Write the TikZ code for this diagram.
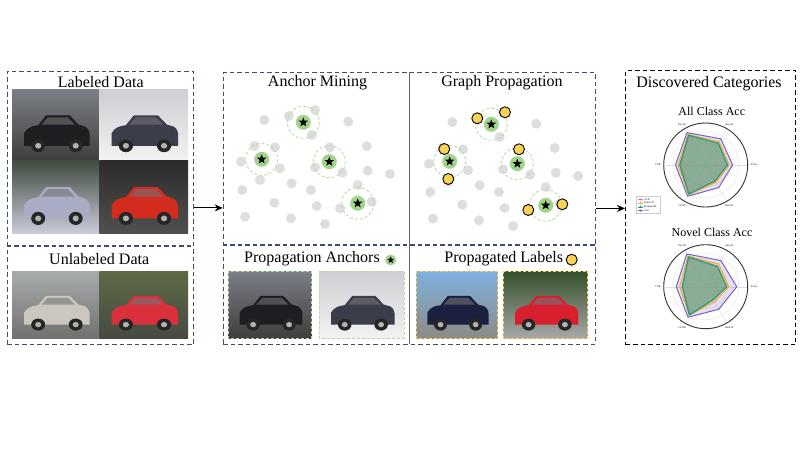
\documentclass[tikz,border=0pt]{standalone}
\usepackage{fontspec}
\setmainfont{Liberation Serif}
\usetikzlibrary{shapes.geometric,arrows.meta}
\definecolor{boxblue}{HTML}{3F4D6E}
\definecolor{dotgray}{HTML}{DEDEDE}
\definecolor{anchorgreen}{HTML}{A3D48C}
\definecolor{ringgreen}{HTML}{B5DBA0}
\definecolor{yellowc}{HTML}{F8D254}
\definecolor{rpink}{HTML}{E377C2}
\definecolor{rorange}{HTML}{F2A93B}
\definecolor{rgreen}{HTML}{1B9E77}
\definecolor{rpurple}{HTML}{7B61C2}
\definecolor{pLat}{HTML}{7D8089}\definecolor{pLab}{HTML}{3E3E3C}\definecolor{pLac}{HTML}{1E1E22}
\definecolor{pLbt}{HTML}{CFCFD4}\definecolor{pLbb}{HTML}{F2F2F2}\definecolor{pLbc}{HTML}{3B3E4A}
\definecolor{pLct}{HTML}{3F4A40}\definecolor{pLcb}{HTML}{C9CBD9}\definecolor{pLcc}{HTML}{A8ACC4}
\definecolor{pLdt}{HTML}{2B2B2B}\definecolor{pLdb}{HTML}{505050}\definecolor{pLdc}{HTML}{D42B1F}
\definecolor{pUat}{HTML}{A9ACAE}\definecolor{pUab}{HTML}{707270}\definecolor{pUac}{HTML}{CBC7BE}
\definecolor{pUbt}{HTML}{5D6B45}\definecolor{pUbb}{HTML}{474A44}\definecolor{pUbc}{HTML}{D9303C}
\definecolor{pRat}{HTML}{7EB0E0}\definecolor{pRab}{HTML}{8C8C84}\definecolor{pRac}{HTML}{1B2040}
\definecolor{pRbt}{HTML}{34502A}\definecolor{pRbb}{HTML}{A8A8A8}\definecolor{pRbc}{HTML}{D81F2E}
\tikzset{
  dbox/.style={draw=boxblue, line width=1.3pt, dash pattern=on 4.5pt off 3pt},
  kbox/.style={draw=black, line width=1.3pt, dash pattern=on 4.5pt off 3pt},
  ttl/.style={font=\fontsize{16}{18}\selectfont, inner sep=0pt},
  sttl/.style={font=\fontsize{12}{14}\selectfont, inner sep=0pt},
  arr/.style={draw=black, line width=0.9pt, -{Stealth[length=8pt,width=7pt]}},
  starnode/.style={star, star points=5, star point ratio=2.4, fill=black, inner sep=0pt, minimum size=10pt},
  ylw/.style={circle, fill=yellowc, draw=black, line width=0.9pt, minimum size=11pt, inner sep=0pt},
  ring/.style={draw=ringgreen, line width=0.8pt, dash pattern=on 3pt off 2pt},
  gdash/.style={draw=ringgreen, line width=1pt, dash pattern=on 3pt off 2pt},
  ydash/.style={draw=yellowc, line width=1pt, dash pattern=on 3pt off 2pt},
  tiny/.style={font=\fontsize{2.6}{3}\selectfont, inner sep=0pt},
}
% photo placeholder: x1,y1,x2,y2,top colour,bottom colour,car colour
\newcommand\photo[7]{%
  \shade[top color=#5, bottom color=#6] (#1,#2) rectangle (#3,#4);
  \begin{scope}[shift={(#1,#2)}, xscale={(#3-#1)/100}, yscale={(#4-#2)/100}]
    \fill[#7] (14,80) -- (14,62) .. controls (17,55) and (22,52) .. (30,51) -- (39,37) -- (66,37) -- (76,50) -- (84,53) .. controls (88,56) and (89,61) .. (89,67) -- (89,80) -- cycle;
    \fill[black!55, opacity=0.6] (41,40) -- (64,40) -- (72,50) -- (34,50) -- cycle;
    \fill[black!85] (30,80) ellipse (8 and 9);
    \fill[black!85] (73,80) ellipse (8 and 9);
    \fill[gray!60] (30,80) ellipse (3.5 and 4);
    \fill[gray!60] (73,80) ellipse (3.5 and 4);
  \end{scope}}
% radar polygon: colour, fill opacity, six values
\newcommand\rpoly[8]{%
  \draw[#1, fill=#1, fill opacity=#2, line width=1pt, line join=round]
    ({120}:{#3*42}) -- ({60}:{#4*42}) -- ({0}:{#5*42}) -- ({-60}:{#6*42}) -- ({-120}:{#7*42}) -- ({180}:{#8*42}) -- cycle;}
\newcommand\radarbase{%
  \foreach \rr in {11,22,33} \draw[gray!18, line width=0.5pt] (0,0) circle (\rr);
  \foreach \aa in {0,60,120,180,240,300} \draw[gray!25, line width=0.4pt] (0,0) -- (\aa:42);
  \draw[black!80, line width=0.9pt] (0,0) circle (42);
  \node[tiny] (lin) at (120:47) {IN-100};
  \node[tiny] (lair) at (60:47) {Aircraft};
  \node[tiny, anchor=west] (lsc) at (0:45) {SCars};
  \node[tiny] (lherb) at (-60:47) {Herb19};
  \node[tiny] (lcf) at (-120:47) {CF100};
  \node[tiny, anchor=east] (lcub) at (180:45) {CUB};}
\begin{document}
\begin{tikzpicture}[x=1pt,y=-1pt]
\fill[white] (0,0) rectangle (806,450);
\useasboundingbox (0,0) rectangle (806,450);

% ---------- left box ----------
\node[dbox, anchor=north west, minimum width=186.5pt, minimum height=273.5pt, inner sep=0pt] (data) at (6.5,70.5) {};
\draw[dbox] (6.5,246) -- (193,246);
\node[ttl] (tlab) at (100.8,82) {Labeled Data};
\photo{12}{89}{99.3}{160}{pLat}{pLab}{pLac}
\photo{99.3}{89}{188}{160}{pLbt}{pLbb}{pLbc}
\photo{12}{160}{99.3}{233}{pLct}{pLcb}{pLcc}
\photo{99.3}{160}{188}{233}{pLdt}{pLdb}{pLdc}
\node[ttl] (tunl) at (99.2,259) {Unlabeled Data};
\photo{12}{271}{99.3}{338}{pUat}{pUab}{pUac}
\photo{99.3}{271}{188}{338}{pUbt}{pUbb}{pUbc}

% ---------- middle box ----------
\node[dbox, anchor=north west, minimum width=372.3pt, minimum height=271.5pt, inner sep=0pt] (mid) at (222.7,72) {};
\draw[dbox] (222.7,245) -- (595,245);
\draw[gray!80!black, line width=0.9pt] (409.3,72) -- (409.3,343.5);
\node[ttl] (tam) at (317.5,83) {Anchor Mining};
\node[ttl] (tgp) at (502,83) {Graph Propagation};

\foreach \dx/\dy in {0/0,188/2}{
  \begin{scope}[shift={(\dx,\dy)}]
  \foreach \px/\py in {264.3/120, 289/116, 315/110, 348.3/121.7, 254.3/146, 275/147.3, 241/161.7, 280/168.3, 260/180, 311.7/135, 330/147.3, 366.7/146, 315/167.3, 342.3/172.7, 367.7/170.7, 390/174, 242.3/190, 291.7/183.3, 311/190, 357.7/185, 274.3/202.7, 316.7/206, 340/208.3, 371.7/201.7, 245/216.7, 291/218.3, 325/224}
    \fill[dotgray] (\px,\py) circle (5);
  \foreach \px/\py [count=\k] in {303.3/122.3, 261.7/159.3, 329.3/161.7, 357.7/203.3}{
    \draw[ring] (\px,\py) circle (16);
    \fill[anchorgreen] (\px,\py) circle (7.5);
    \node[starnode] (st\dx-\k) at (\px,\py) {};
  }
  \end{scope}
}
\foreach \px/\py [count=\k] in {477.3/118.3, 505/112.3, 444.3/149, 448.3/179, 519/149.3, 528.3/210, 562.3/204.3}
  \node[ylw] (yl\k) at (\px,\py) {};

\node[ttl] (tpa) at (312,259) {Propagation Anchors};
\fill[anchorgreen] (390.7,260) circle (5.5);
\node[starnode, minimum size=7.5pt] (ipa) at (390.7,260) {};
\node[ttl] (tpl) at (503.7,259) {Propagated Labels};
\node[ylw] (ipl) at (571.7,259.7) {};

\photo{228}{271}{311.7}{338}{pLat}{pLab}{pLac}
\draw[gdash] (228,271) rectangle (311.7,338);
\photo{319.3}{271}{404}{338}{pLbt}{pLbb}{pLbc}
\draw[gdash] (319.3,271) rectangle (404,338);
\photo{416}{271}{497.7}{338}{pRat}{pRab}{pRac}
\draw[ydash] (416,271) rectangle (497.7,338);
\photo{503.3}{271}{587.7}{338}{pRbt}{pRbb}{pRbc}
\draw[ydash] (503.3,271) rectangle (587.7,338);

% ---------- right box ----------
\node[kbox, anchor=north west, minimum width=170pt, minimum height=274pt, inner sep=0pt] (disc) at (625,70) {};
\node[ttl] (tdc) at (709,83.5) {Discovered Categories};
\node[sttl] (tall) at (711.8,111) {All Class Acc};
\node[sttl] (tnov) at (712,232.5) {Novel Class Acc};

\begin{scope}[shift={(705.7,165)}, y=1pt]
  \radarbase
  \rpoly{rpurple}{0.2}{0.89}{0.72}{0.64}{0.62}{0.86}{0.72}
  \rpoly{rpink}{0.25}{0.80}{0.60}{0.52}{0.44}{0.80}{0.60}
  \rpoly{rorange}{0.3}{0.84}{0.64}{0.56}{0.48}{0.82}{0.66}
  \rpoly{rgreen}{0.45}{0.82}{0.60}{0.52}{0.44}{0.80}{0.62}
\end{scope}
\begin{scope}[shift={(705.7,286.7)}, y=1pt]
  \radarbase
  \rpoly{rpurple}{0.2}{0.90}{0.72}{0.74}{0.62}{0.84}{0.70}
  \rpoly{rpink}{0.25}{0.80}{0.55}{0.50}{0.35}{0.76}{0.55}
  \rpoly{rorange}{0.3}{0.84}{0.62}{0.55}{0.42}{0.78}{0.62}
  \rpoly{rgreen}{0.45}{0.82}{0.56}{0.50}{0.36}{0.78}{0.56}
\end{scope}
% legend
\draw[gray!40, line width=0.3pt, fill=white] (636.5,196.5) rectangle (660,213.5);
\foreach \cc/\nm [count=\k] in {rpink/GCD, rorange/SimGCD, rgreen/PromptCAL, rpurple/Ours}{
  \draw[\cc, line width=0.8pt] (638,{195.5+\k*3.8}) -- (643,{195.5+\k*3.8});
  \fill[\cc] (640.5,{195.5+\k*3.8}) circle (1.2);
  \node[tiny, anchor=west] (lg\k) at (644,{195.5+\k*3.8}) {\nm};
}

% ---------- arrows ----------
\draw[arr] (data.east) -- (data.east -| mid.west);
\draw[arr] (mid.east) -- (mid.east -| disc.west);
\end{tikzpicture}
\end{document}
